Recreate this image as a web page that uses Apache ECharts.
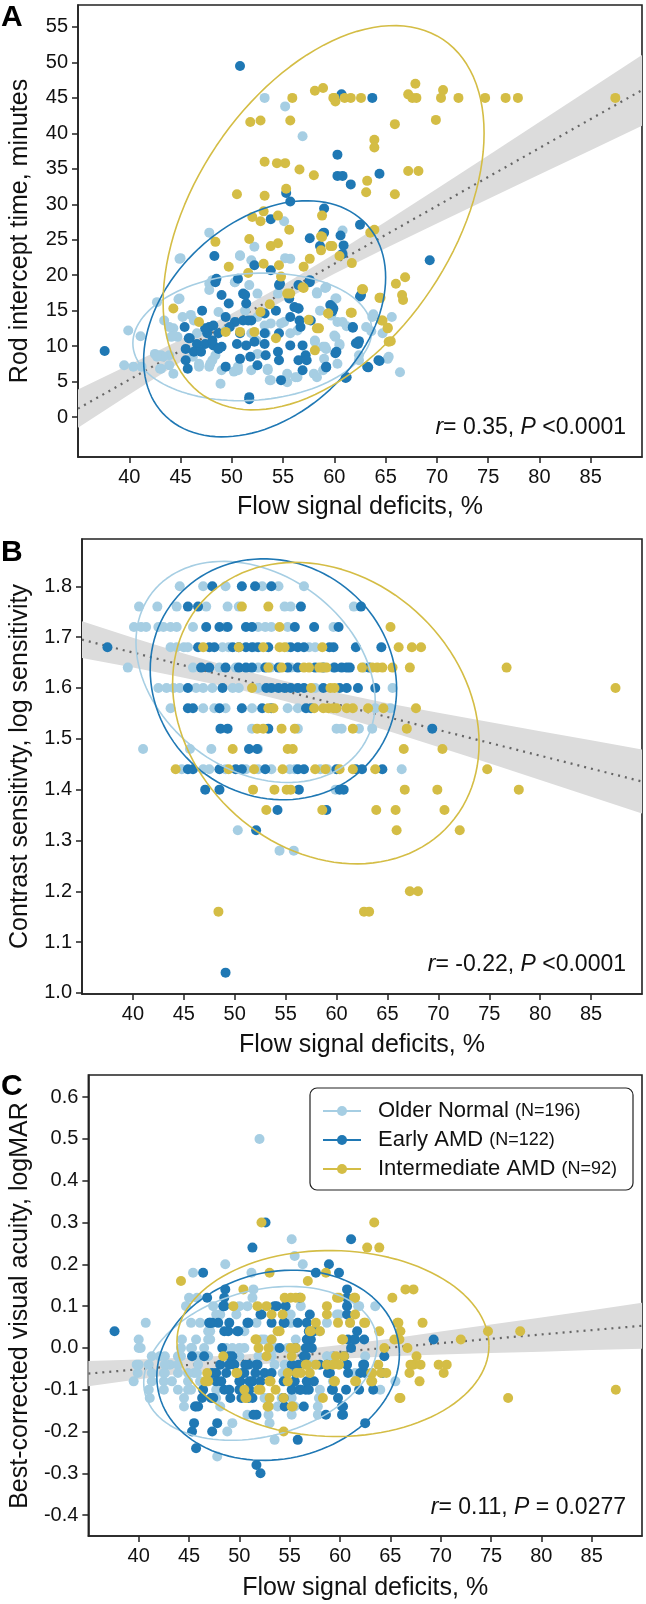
<!DOCTYPE html>
<html>
<head>
<meta charset="utf-8">
<title>Flow signal deficits and visual function</title>
<script src="https://cdn.jsdelivr.net/npm/echarts@6.0.0/dist/echarts.min.js"></script>
<style>
  html, body { margin: 0; padding: 0; background: #fff; }
  #chart { width: 646px; height: 1604px; }
</style>
</head>
<body>
<div id="chart"></div>
<script>
const colNormal = "#a6cee3";
const colEarly = "#1f78b4";
const colInter = "#d4bd45";
const font = '"Liberation Sans", Arial, Helvetica, sans-serif';

const groupNames = ["Older Normal", "Early AMD", "Intermediate AMD"];
const groupCounts = ["(N=196)", "(N=122)", "(N=92)"];

const xTicks = [40, 45, 50, 55, 60, 65, 70, 75, 80, 85];
const rodTicks = [0, 5, 10, 15, 20, 25, 30, 35, 40, 45, 50, 55];
const csTicks = [1.0, 1.1, 1.2, 1.3, 1.4, 1.5, 1.6, 1.7, 1.8];
const vaTicks = [-0.4, -0.3, -0.2, -0.1, 0.0, 0.1, 0.2, 0.3, 0.4, 0.5, 0.6];

// ---- A: rod intercept time (minutes) vs flow signal deficits (%)
const rodNormal = [
  [53.2,45],[55.2,43.8],[56.9,39.6],[55.1,27.6],[47.8,26.0],[52.2,24.0],[50.8,22.7],[45.0,22.4],[55.2,22.4],[60.8,26.3],
  [59.1,18.2],[60.1,16.7],[59.7,14.3],[60.3,13.4],[61.2,12.8],[63.6,12.1],[63.8,14.5],[65.6,14.1],[60.1,11.3],[59.2,9.6],
  [60.5,10.1],[60.3,7.5],[59.0,8.2],[65.2,8.2],[66.4,6.3],[62.4,8.7],[44.9,22.3],[42.7,16.2],[44.8,16.6],[39.9,12.2],
  [41.1,11.4],[39.5,7.3],[40.4,7.1],[41.2,7.1],[42.5,8.9],[43.1,8.7],[43.0,6.8],[43.9,8.7],[44.3,6.1],[43.9,7.3],
  [44.7,11.3],[43.4,13.6],[44.3,12.5],[46.3,13.6],[46.8,7.1],[47.8,7.1],[48.9,4.7],[48.1,19.3],[50.3,19.0],[47.8,17.9],
  [48.7,14.8],[50.8,22.8],[51.9,22.1],[55.7,22.3],[58.3,17.6],[53.5,6.8],[53.8,5.2],[55.4,4.9],[56.4,5.6],[58.0,6.1],
  [58.9,6.6],[52.5,14.1],[53.3,11.8],[55.1,13.4],[58.1,10.8],[58.9,9.9],[48.1,8.0],[50.6,7.1],[51.9,6.6],[55.7,11.8],
  [56.4,12.2],[52.5,8.9],[46.2,8.5],[46.6,11.8],[45.2,14.1],[49.4,12.2],[51.9,11.8],[51.3,15.0],[54.5,17.4],[48.4,8.7],
  [44.9,16.7],[46.0,14.4],[44.1,11.3],[43.3,8.5],[43.1,6.8],[46.8,7.5],[47.9,7.5],[50.2,6.4],[52.4,10.8],[53.7,5.2],
  [53.5,6.6],[55.4,6.1],[56.2,5.6],[58.1,10.6],[59.1,9.9],[60.5,10.3],[60.0,11.5],[58.6,15.0],[58.3,17.4],[59.2,18.3],
  [60.2,16.7],[60.8,13.4],[63.1,12.7],[63.7,14.1],[64.7,11.8],[65.3,8.5],[62.4,8.0],[58.3,5.6],[49.0,6.6],[50.6,6.6],
  [43.9,12.7],[42.7,8.5],[52.5,17.4],[51.7,18.6],[47.8,18.8],[50.3,19.0],[53.8,13.2],[54.8,13.2],[53.2,12.9]
];
const rodEarly = [
  [50.8,49.5],[55.3,31.6],[55.7,30.4],[59.0,29.4],[53.8,27.9],[59.0,26.0],[57.6,25.2],[58.6,24.1],[48.3,22.7],[60.7,45.5],
  [63.7,45],[60.3,37.0],[60.3,34.0],[60.8,34.0],[61.6,32.8],[64.4,34.3],[62.5,27.1],[58.9,25.9],[60.6,25.6],[60.9,24.2],
  [60.8,23.0],[69.3,22.1],[62.5,17.0],[59.8,15.5],[59.8,14.9],[61.8,12.6],[62.1,10.4],[62.4,10.7],[60.1,9.0],[59.2,7.0],
  [63.3,7.0],[64.4,7.9],[61.1,5.5],[37.6,9.3],[48.5,19.5],[50.6,19.5],[52.2,21.4],[53.8,20.7],[54.7,18.8],[57.6,19.3],
  [49.0,17.2],[49.7,16.0],[51.1,17.4],[51.4,16.0],[47.1,15.0],[45.4,12.7],[47.8,12.7],[49.4,14.1],[50.3,13.4],[51.6,13.6],
  [53.2,14.6],[54.3,15.0],[55.6,16.7],[56.5,15.3],[55.7,14.1],[56.7,12.7],[57.7,13.6],[54.6,11.8],[45.9,11.1],[46.6,10.3],
  [47.4,10.3],[48.2,10.1],[49.0,9.9],[46.3,9.2],[45.5,8.0],[45.7,6.8],[47.0,9.2],[50.5,10.3],[51.4,10.1],[52.2,10.6],
  [53.2,10.3],[50.8,8.2],[51.8,8.5],[52.5,7.3],[53.3,8.7],[54.5,9.2],[54.6,8.0],[55.7,10.1],[56.9,10.1],[57.2,8.7],
  [56.5,8.0],[57.3,8.0],[56.9,6.6],[49.4,7.1],[54.8,5.2],[51.7,2.8],[59.2,7.1],[60.2,9.2],[61.2,5.6],[62.3,10.3],
  [61.8,12.7],[59.9,15.3],[62.6,17.2],[64.3,8.0],[63.2,7.1],[56.5,18.6],[57.6,19.0],[54.6,18.6],[48.4,19.0],[49.8,12.7],
  [48.7,11.8],[47.6,11.8],[50.8,11.8],[53.2,11.8],[45.8,11.1],[45.5,9.6],[48.1,10.8],[48.7,9.6],[47.4,12.5],[48.2,12.9],
  [51.1,13.6],[51.9,13.6],[56.1,15.5],[56.5,15.3],[59.6,15.8],[51.3,17.2],[51.7,2.5],[56.6,13.6]
];
const rodInter = [
  [58.1,46.0],[58.9,46.4],[59.9,45],[55.9,45],[51.8,41.6],[52.8,41.8],[55.7,41.8],[53.2,36.0],[54.4,35.8],[55.2,35.8],
  [56.6,34.9],[58.0,34.1],[50.5,31.4],[53.2,31.2],[55.3,32.2],[53.1,29.0],[52.0,28.2],[52.8,27.6],[54.5,28.4],[55.6,26.4],
  [51.7,25.1],[53.8,24.1],[54.5,24.5],[48.4,24.7],[58.7,25.5],[58.7,23.5],[59.6,24.1],[60.0,45],[60.1,44.5],[61.0,45],
  [61.6,45],[62.6,45],[67.2,45.5],[67.9,47.0],[67.6,45],[68.0,45],[70.6,46.1],[70.4,45],[72.1,45],[74.7,45],
  [76.7,45],[77.9,45],[87.4,45],[65.9,41.3],[69.9,41.9],[63.9,39.1],[63.9,38.0],[67.2,34.7],[68.2,34.7],[63.2,33.3],
  [63.1,31.7],[65.9,31.4],[58.8,28.4],[63.5,26.0],[63.9,26.4],[59.8,24.1],[60.5,22.7],[58.8,25.4],[61.7,21.7],[62.7,18.0],
  [66.0,18.8],[66.9,19.7],[66.6,17.2],[66.7,16.5],[64.4,16.8],[61.7,14.7],[59.4,14.6],[64.6,13.6],[65.2,12.6],[65.5,10.7],
  [58.5,12.5],[44.3,15.3],[46.8,13.4],[49.4,12.0],[50.8,12.0],[52.2,12.0],[54.3,11.1],[52.8,14.8],[53.7,15.9],[55.4,17.4],
  [57.0,18.2],[57.5,13.7],[58.3,12.5],[58.1,9.4],[59.4,14.6],[61.6,14.7],[62.8,18.0],[64.5,16.8],[64.7,13.6],[65.2,12.5],
  [65.3,10.6],[55.7,17.4],[56.9,18.3],[54.8,19.8],[51.6,20.3],[49.7,21.2],[53.1,21.6],[54.6,21.4],[57.0,21.2],[57.6,22.3]
];

// ---- B: contrast sensitivity (log) vs flow signal deficits (%)
const csNormal = [
  [44.6,1.8],[46.9,1.8],[49.1,1.8],[52.7,1.8],[54.3,1.8],[56.8,1.8],
  [40.6,1.76],[42.4,1.76],[44.3,1.76],[47.2,1.76],[49.3,1.76],[50.4,1.76],[54.9,1.76],[55.5,1.76],[61.7,1.76],
  [40.1,1.72],[40.8,1.72],[41.3,1.72],[42.5,1.72],[43.0,1.72],[43.7,1.72],[44.3,1.72],[45.9,1.72],[49.1,1.72],[52.3,1.72],[53.0,1.72],[53.6,1.72],[55.2,1.72],[59.7,1.72],
  [43.7,1.68],[44.3,1.68],[45.0,1.68],[45.4,1.68],[48.8,1.68],[49.4,1.68],[51.9,1.68],[55.2,1.68],[57.3,1.68],[57.9,1.68],
  [39.5,1.64],[45.9,1.64],[48.5,1.64],[50.1,1.64],[52.3,1.64],[53.5,1.64],[55.5,1.64],[59.7,1.64],[62.7,1.64],
  [42.5,1.6],[43.3,1.6],[44.0,1.6],[44.6,1.6],[46.2,1.6],[46.9,1.6],[47.8,1.6],[49.8,1.6],[50.4,1.6],[52.3,1.6],[57.9,1.6],[65.5,1.6],
  [43.7,1.56],[46.9,1.56],[48.0,1.56],[49.1,1.56],[51.7,1.56],[55.2,1.56],[56.2,1.56],[63.8,1.56],[65.3,1.56],
  [51.7,1.52],[56.2,1.52],[60.0,1.52],[60.5,1.52],[62.2,1.52],[63.5,1.52],
  [41.0,1.48],[45.6,1.48],[47.7,1.48],[52.3,1.48],
  [44.8,1.44],[46.9,1.44],[47.5,1.44],[49.1,1.44],[51.1,1.44],[52.3,1.44],[53.6,1.44],[55.4,1.44],[55.9,1.44],[59.1,1.44],[58.4,1.44],[66.4,1.44],
  [59.9,1.4],[50.3,1.32],[54.4,1.28],[55.8,1.28]
];
const csEarly = [
  [47.8,1.8],[50.7,1.8],[52.0,1.8],[53.6,1.8],
  [45.4,1.76],[46.4,1.76],[56.5,1.76],[62.4,1.76],
  [47.2,1.72],[48.5,1.72],[49.3,1.72],[51.1,1.72],[51.7,1.72],[55.9,1.72],[57.8,1.72],[60.2,1.72],
  [37.5,1.68],[46.4,1.68],[47.5,1.68],[48.0,1.68],[49.8,1.68],[50.4,1.68],[51.1,1.68],[51.7,1.68],[52.3,1.68],[53.3,1.68],[55.5,1.68],[56.2,1.68],[56.8,1.68],[59.7,1.68],[59.3,1.68],[61.9,1.68],[64.4,1.68],
  [46.7,1.64],[47.5,1.64],[49.1,1.64],[50.4,1.64],[51.1,1.64],[51.7,1.64],[53.0,1.64],[54.3,1.64],[55.2,1.64],[56.2,1.64],[57.9,1.64],[58.7,1.64],[59.8,1.64],[60.5,1.64],[61.0,1.64],[61.3,1.64],[63.2,1.64],
  [45.4,1.6],[48.8,1.6],[53.1,1.6],[53.6,1.6],[54.3,1.6],[54.9,1.6],[55.5,1.6],[56.2,1.6],[56.8,1.6],[58.7,1.6],[60.3,1.6],[61.0,1.6],[62.1,1.6],[63.8,1.6],
  [45.4,1.56],[45.9,1.56],[48.5,1.56],[50.7,1.56],[52.7,1.56],[53.6,1.56],[57.0,1.56],[57.5,1.56],
  [48.6,1.52],[49.3,1.52],[53.3,1.52],[69.4,1.52],[51.4,1.48],[52.2,1.48],
  [45.4,1.44],[45.9,1.44],[48.5,1.44],[50.1,1.44],[50.7,1.44],[53.0,1.44],[56.2,1.44],[56.8,1.44],[60.0,1.44],[61.9,1.44],[62.5,1.44],[64.5,1.44],
  [47.1,1.4],[48.5,1.4],[56.3,1.4],[60.3,1.4],[60.7,1.4],[54.2,1.36],[59.0,1.36],[52.1,1.32],[49.1,1.04]
];
const csInter = [
  [50.7,1.76],[53.3,1.76],[54.4,1.72],[65.3,1.72],
  [46.9,1.68],[50.4,1.68],[52.8,1.68],[54.4,1.68],[54.9,1.68],[58.6,1.68],[66.1,1.68],[67.4,1.68],[68.3,1.68],
  [53.3,1.64],[54.6,1.64],[56.8,1.64],[57.3,1.64],[58.3,1.64],[58.6,1.64],[59.0,1.64],[62.5,1.64],[63.5,1.64],[64.0,1.64],[64.5,1.64],[65.5,1.64],[67.2,1.64],[76.7,1.64],
  [51.7,1.6],[57.5,1.6],[59.4,1.6],[59.8,1.6],[87.4,1.6],
  [53.3,1.56],[53.8,1.56],[57.8,1.56],[58.7,1.56],[59.2,1.56],[59.7,1.56],[60.0,1.56],[61.0,1.56],[61.6,1.56],[63.1,1.56],[64.6,1.56],[67.8,1.56],
  [52.2,1.52],[52.8,1.52],[54.6,1.52],[55.9,1.52],[61.6,1.52],[66.9,1.52],
  [49.8,1.48],[55.2,1.48],[55.7,1.48],[66.6,1.48],[70.4,1.48],
  [44.2,1.44],[49.4,1.44],[51.9,1.44],[54.7,1.44],[57.9,1.44],[58.9,1.44],[60.3,1.44],[61.6,1.44],[63.8,1.44],[74.8,1.44],
  [51.8,1.4],[53.9,1.4],[55.1,1.4],[55.5,1.4],[66.7,1.4],[69.9,1.4],[77.9,1.4],
  [53.1,1.36],[58.6,1.36],[63.9,1.36],[65.8,1.36],[70.6,1.36],[65.9,1.32],[72.1,1.32],
  [67.2,1.2],[68.0,1.2],[48.4,1.16],[62.7,1.16],[63.2,1.16]
];

// ---- C: best-corrected visual acuity (logMAR) vs flow signal deficits (%)
const vaNormal = [
  [52.0,0.5],[55.2,0.26],[55.5,0.22],[56.3,0.2],[48.6,0.2],[45.4,0.18],[51.2,0.18],[51.4,0.14],[45.0,0.12],[44.7,0.10],
  [50.0,0.10],[56.1,0.10],[48.1,0.08],[61.8,0.10],[63.5,0.10],[59.7,0.08],[61.0,0.06],[51.7,0.06],[46.9,0.04],[44.3,0.02],
  [46.9,0.02],[52.5,0.02],[55.6,0.02],[40.2,0.0],[45.3,0.0],[46.5,0.0],[49.3,0.0],[50.5,0.0],[53.6,0.0],[54.8,0.0],
  [42.1,-0.02],[43.9,-0.02],[45.9,-0.02],[46.9,-0.02],[51.9,-0.02],[59.2,-0.02],[39.8,-0.04],[41.0,-0.04],[43.1,-0.04],[45.9,-0.04],
  [51.3,-0.04],[57.2,-0.04],[39.9,-0.06],[41.3,-0.06],[42.5,-0.06],[45.5,-0.06],[39.5,-0.08],[42.5,-0.08],[44.9,-0.08],[65.5,-0.08],
  [41.0,-0.10],[43.9,-0.10],[44.9,-0.10],[55.6,-0.10],[58.0,-0.10],[64.0,-0.10],[41.1,-0.12],[47.7,-0.12],[52.5,-0.12],[55.2,-0.12],
  [44.5,-0.14],[48.1,-0.14],[52.9,-0.14],[55.2,-0.14],[57.8,-0.14],[50.8,-0.16],[55.2,-0.16],[57.8,-0.16],[49.3,-0.18],[53.0,-0.18],
  [48.8,-0.20],[53.5,-0.22],[47.8,-0.26],
  [45.8,0.12],[51.3,0.12],[47.4,0.10],[50.8,0.10],[61.9,0.10],[47.7,0.08],[49.7,0.08],[54.5,0.08],[55.1,0.08],[59.9,0.08],
  [40.7,0.06],[45.2,0.06],[46.1,0.06],[55.1,0.06],[58.7,0.06],[47.1,0.04],[50.5,0.04],[57.4,0.04],[58.0,0.04],[40.0,0.02],
  [45.7,0.02],[47.1,0.02],[52.2,0.02],[53.2,0.02],[40.0,0.0],[44.2,0.0],[45.2,0.0],[48.7,0.0],[50.0,0.0],[55.5,0.0],
  [41.3,-0.02],[42.6,-0.02],[44.2,-0.02],[46.8,-0.02],[50.0,-0.02],[53.2,-0.02],[58.7,-0.02],[62.5,-0.02],[40.0,-0.04],[42.6,-0.04],
  [43.9,-0.04],[53.5,-0.04],[54.5,-0.04],[42.6,-0.06],[43.9,-0.06],[44.9,-0.06],[45.8,-0.06],[54.3,-0.06],[61.5,-0.06],[41.3,-0.08],
  [43.3,-0.08],[46.1,-0.08],[59.3,-0.08],[42.5,-0.10],[45.2,-0.10],[47.7,-0.10],[44.5,-0.12],[52.9,-0.12],[54.2,-0.12],[57.9,-0.12],
  [53.8,-0.14],[55.5,-0.14],[52.9,-0.16]
];
const vaEarly = [
  [52.6,0.30],[51.3,0.24],[58.9,0.2],[46.4,0.18],[57.6,0.18],[48.6,0.14],[46.8,0.12],[56.0,0.12],[48.4,0.10],[53.7,0.10],
  [54.6,0.10],[52.2,0.08],[57.0,0.08],[47.0,0.06],[47.9,0.06],[49.0,0.06],[50.8,0.06],[37.6,0.04],[61.1,0.26],[59.9,0.18],
  [60.7,0.14],[60.7,0.10],[60.7,0.08],[47.3,0.06],[50.9,0.06],[53.2,0.06],[54.4,0.06],[55.8,0.06],[48.5,0.04],[48.9,0.04],
  [49.9,0.04],[57.4,0.04],[57.1,0.02],[60.8,0.02],[61.4,0.02],[62.4,0.02],[69.3,0.02],[48.3,0.0],[55.6,0.0],[57.2,0.0],
  [45.3,-0.02],[46.5,-0.02],[49.3,-0.02],[56.4,-0.02],[60.4,-0.02],[64.4,-0.02],[48.1,-0.04],[49.5,-0.04],[50.9,-0.04],[51.7,-0.04],
  [55.2,-0.04],[58.0,-0.04],[62.3,-0.04],[47.3,-0.06],[47.7,-0.06],[50.3,-0.06],[52.5,-0.06],[55.6,-0.06],[59.0,-0.06],[60.8,-0.06],
  [62.0,-0.06],[64.2,-0.06],[47.7,-0.08],[50.1,-0.08],[51.3,-0.08],[54.4,-0.08],[46.4,-0.10],[48.5,-0.10],[50.0,-0.10],[50.9,-0.10],
  [55.2,-0.10],[56.0,-0.10],[56.6,-0.10],[59.2,-0.10],[60.6,-0.10],[61.9,-0.10],[63.3,-0.10],[47.2,-0.12],[49.1,-0.12],[50.9,-0.12],
  [54.4,-0.12],[45.6,-0.14],[45.9,-0.14],[54.5,-0.14],[56.4,-0.14],[60.2,-0.14],[51.7,-0.16],[58.6,-0.16],[60.2,-0.16],[45.5,-0.18],
  [47.8,-0.18],[62.5,-0.18],[45.3,-0.20],[47.3,-0.20],[55.8,-0.22],[45.7,-0.24],[51.7,-0.28],[52.1,-0.30],
  [48.5,0.12],[60.7,0.12],[48.5,0.10],[53.5,0.10],[52.1,0.08],[47.1,0.06],[54.5,0.06],[56.7,0.06],[49.8,0.04],[56.9,0.04],
  [61.7,0.04],[56.7,0.02],[61.5,0.02],[54.0,0.0],[56.6,0.0],[61.1,0.0],[49.0,-0.02],[56.6,-0.02],[49.0,-0.04],[50.6,-0.04],
  [51.8,-0.04],[55.9,-0.04],[58.7,-0.04],[60.7,-0.04],[62.4,-0.04],[48.7,-0.06],[50.5,-0.06],[51.6,-0.06],[53.2,-0.06],[58.8,-0.06],
  [62.5,-0.06],[48.2,-0.08],[50.0,-0.08],[51.0,-0.08],[52.1,-0.08],[55.5,-0.08],[56.7,-0.08],[57.4,-0.08],[49.0,-0.10],[51.0,-0.10],
  [56.1,-0.10],[56.9,-0.10],[59.3,-0.10],[46.3,-0.12],[47.4,-0.12],[50.2,-0.12],[51.3,-0.12],[59.8,-0.12],[45.7,-0.14],[60.3,-0.14],
  [51.4,-0.16],[60.3,-0.16]
];
const vaInter = [
  [52.2,0.30],[53.0,0.18],[58.6,0.18],[44.2,0.16],[56.8,0.16],[50.4,0.14],[54.5,0.12],[55.1,0.12],[55.6,0.12],[49.4,0.10],
  [51.8,0.10],[52.7,0.10],[58.7,0.10],[53.2,0.08],[54.3,0.08],[58.7,0.08],[57.6,0.06],[63.4,0.30],[62.7,0.24],[63.9,0.24],
  [66.5,0.14],[67.3,0.14],[65.2,0.12],[59.7,0.12],[61.4,0.12],[61.5,0.08],[65.8,0.06],[68.2,0.06],[59.8,0.06],[62.4,0.06],
  [61.0,0.06],[54.0,0.04],[57.0,0.04],[58.0,0.04],[63.9,0.04],[66.0,0.04],[74.7,0.04],[77.9,0.04],[51.7,0.02],[53.2,0.02],
  [60.2,0.02],[65.4,0.02],[65.9,0.02],[72.0,0.02],[52.9,0.0],[55.6,0.0],[66.7,0.0],[48.4,-0.02],[52.7,-0.02],[55.2,-0.02],
  [59.6,-0.02],[56.6,-0.04],[57.6,-0.04],[58.7,-0.04],[59.9,-0.04],[63.8,-0.04],[67.3,-0.04],[68.0,-0.04],[69.8,-0.04],[70.6,-0.04],
  [49.8,-0.06],[55.7,-0.06],[57.0,-0.06],[63.1,-0.06],[64.6,-0.06],[66.9,-0.06],[70.3,-0.06],[46.9,-0.08],[53.1,-0.08],[54.8,-0.08],
  [59.4,-0.08],[61.6,-0.08],[63.1,-0.08],[67.9,-0.08],[52.1,-0.10],[53.6,-0.10],[87.4,-0.10],[50.7,-0.12],[53.0,-0.12],[54.4,-0.12],
  [58.3,-0.12],[66.0,-0.12],[76.7,-0.12],[52.8,-0.14],[55.2,-0.14],[54.4,-0.20],
  [56.1,0.12],[59.9,0.12],[61.5,0.12],[62.5,0.06],[65.7,0.06],[53.8,0.04],[57.1,0.04],[51.6,0.02],[60.3,0.02],[51.9,0.0],
  [55.1,0.0],[64.4,0.0],[60.4,-0.02],[67.6,-0.02],[56.7,-0.04],[59.3,-0.04],[67.0,-0.04],[46.8,-0.06],[49.7,-0.06],[54.8,-0.06],
  [56.1,-0.06],[63.2,-0.06],[64.1,-0.06],[46.6,-0.08],[53.0,-0.08],[59.5,-0.08],[61.5,-0.08],[63.2,-0.08],[50.5,-0.10],[51.9,-0.10],
  [50.6,-0.12],[65.9,-0.12],[52.9,-0.14],[55.3,-0.14]
];

// regression line ends and confidence band [x, lower, upper]
const rodFit = [[35, 1.18], [90, 46.1]];
const rodBand = [[35,-1.52,3.88],[40,3.16,7.36],[45,7.77,10.91],[50,12.24,14.60],[55,16.40,18.60],[60,20.19,22.97],
  [65,23.78,27.54],[70,27.28,32.20],[75,30.75,36.89],[80,34.19,41.61],[85,37.63,46.33],[90,41.06,51.06]];
const csFit = [[35, 1.695], [90, 1.416]];
const csBand = [[35,1.659,1.731],[40,1.640,1.699],[45,1.620,1.668],[50,1.599,1.639],[55,1.574,1.613],[60,1.546,1.591],
  [65,1.516,1.570],[70,1.484,1.551],[75,1.452,1.533],[80,1.419,1.515],[85,1.386,1.497],[90,1.353,1.479]];
const vaFit = [[35, -0.0615], [90, 0.053]];
const vaBand = [[35,-0.092,-0.031],[40,-0.075,-0.028],[45,-0.059,-0.023],[50,-0.044,-0.017],[55,-0.033,-0.007],[60,-0.026,0.007],
  [65,-0.020,0.022],[70,-0.016,0.039],[75,-0.012,0.056],[80,-0.009,0.073],[85,-0.005,0.090],[90,-0.002,0.108]];

// group ellipses: [centre x, centre y, half width, half height, correlation]
const rodEllipses = [[52.0, 11.3, 11.65, 9.0, 0.1], [53.2, 13.85, 11.8, 16.65, 0.35], [58.95, 28.1, 15.65, 27.1, 0.44]];
const csEllipses = [[52.05, 1.6315, 11.75, 0.2175, -0.27], [53.8, 1.617, 12.1, 0.237, -0.08], [58.95, 1.5505, 15.05, 0.2965, -0.2]];
const vaEllipses = [[52.1, -0.037, 11.6, 0.184, 0.25], [53.85, -0.0415, 12.05, 0.2275, 0.12], [59.3, 0.0105, 15.5, 0.2225, -0.02]];

const colors = [colNormal, colEarly, colInter];

function ellipsePath(p) {
  const [mx, my, sx, sy, rho] = p;
  const k = Math.sqrt(1 - rho * rho);
  const pts = [];
  for (let i = 0; i <= 120; i++) {
    const t = (i / 120) * 2 * Math.PI;
    pts.push([mx + sx * Math.cos(t), my + sy * (rho * Math.cos(t) + k * Math.sin(t))]);
  }
  return pts;
}

function panelSeries(idx, groups, fit, band, ellipses) {
  const out = [];
  out.push({
    type: "custom", xAxisIndex: idx, yAxisIndex: idx, z: 1, silent: true, clip: true,
    data: band, encode: { x: 0, y: [1, 2] },
    renderItem(params, api) {
      if (params.dataIndex !== 0) return null;
      const up = band.map(r => api.coord([r[0], r[2]]));
      const lo = band.map(r => api.coord([r[0], r[1]])).reverse();
      return { type: "polygon", shape: { points: up.concat(lo) }, style: { fill: "#dcdcdc" } };
    }
  });
  out.push({
    type: "line", xAxisIndex: idx, yAxisIndex: idx, z: 2, data: fit, showSymbol: false, silent: true,
    lineStyle: { color: "#666", width: 2.2, type: [2, 5] }
  });
  groups.forEach((g, j) => {
    out.push({
      type: "scatter", xAxisIndex: idx, yAxisIndex: idx, z: 3 + j, data: g, symbolSize: 10,
      itemStyle: { color: colors[j], opacity: 1 }
    });
  });
  ellipses.forEach((e, j) => {
    out.push({
      type: "line", xAxisIndex: idx, yAxisIndex: idx, z: 7, data: ellipsePath(e), showSymbol: false,
      silent: true, lineStyle: { color: colors[j], width: 1.6 }
    });
  });
  return out;
}

function xAxisFor(idx, gap) {
  return {
    type: "value", gridIndex: idx, min: 35, max: 90,
    name: "Flow signal deficits, %", nameLocation: "middle", nameGap: gap,
    nameTextStyle: { fontSize: 25, color: "#111", fontFamily: font },
    axisLine: { show: true, onZero: false, lineStyle: { color: "#222", width: 1.6 } },
    axisTick: { show: true, length: 6, customValues: xTicks, lineStyle: { color: "#222", width: 1.5 } },
    axisLabel: { customValues: xTicks, fontSize: 20, color: "#111", margin: 10, fontFamily: font },
    splitLine: { show: false }
  };
}

function yAxisFor(idx, name, min, max, ticks, gap, fmt) {
  return {
    type: "value", gridIndex: idx, min: min, max: max,
    name: name, nameLocation: "middle", nameGap: gap,
    nameTextStyle: { fontSize: 25, color: "#111", fontFamily: font },
    axisLine: { show: true, onZero: false, lineStyle: { color: "#222", width: 1.6 } },
    axisTick: { show: true, length: 6, customValues: ticks, lineStyle: { color: "#222", width: 1.5 } },
    axisLabel: { customValues: ticks, fontSize: 20, color: "#111", margin: 10, fontFamily: font, formatter: fmt },
    splitLine: { show: false }
  };
}

function statText(y, rest1, rest2) {
  return {
    type: "text", x: 626, y: y, z: 50,
    style: {
      text: "{i|r}" + rest1 + "{i|P}" + rest2,
      fontSize: 23, fontFamily: font, fill: "#111", align: "right", verticalAlign: "middle",
      rich: { i: { fontStyle: "italic", fontSize: 23, fontFamily: font, fill: "#111" } }
    }
  };
}

function letter(t, y) {
  return { type: "text", x: 1, y: y, z: 50, style: { text: t, fontSize: 30, fontWeight: "bold", fontFamily: font, fill: "#000", verticalAlign: "middle" } };
}

const legendRows = [1111, 1140, 1169];
const legendItems = [{
  type: "rect", z: 60, shape: { x: 310, y: 1088, width: 323, height: 102, r: 7 },
  style: { fill: "rgba(255,255,255,0.92)", stroke: "#222", lineWidth: 1.2 }
}];
groupNames.forEach((n, j) => {
  const y = legendRows[j];
  legendItems.push({ type: "line", z: 61, shape: { x1: 323, y1: y, x2: 361, y2: y }, style: { stroke: colors[j], lineWidth: 2 } });
  legendItems.push({ type: "circle", z: 62, shape: { cx: 342, cy: y, r: 5 }, style: { fill: colors[j] } });
  legendItems.push({
    type: "text", z: 62, x: 378, y: y,
    style: {
      text: "{a|" + n + " }{b|" + groupCounts[j] + "}", verticalAlign: "middle", fontFamily: font, fill: "#111",
      rich: { a: { fontSize: 22, fontFamily: font, fill: "#111" }, b: { fontSize: 18, fontFamily: font, fill: "#111" } }
    }
  });
});

const chart = echarts.init(document.getElementById("chart"), null, { renderer: "canvas" });
const fmt1 = v => v.toFixed(1);
chart.setOption({
  animation: false,
  backgroundColor: "#fff",
  textStyle: { fontFamily: font },
  grid: [
    { left: 70, top: 5, right: 4, height: 452, show: true, borderColor: "#222", borderWidth: 1.6, backgroundColor: "#fff" },
    { left: 73, top: 539, right: 4, height: 455, show: true, borderColor: "#222", borderWidth: 1.6, backgroundColor: "#fff" },
    { left: 74, top: 1075, right: 4, height: 461, show: true, borderColor: "#222", borderWidth: 1.6, backgroundColor: "#fff" }
  ],
  xAxis: [xAxisFor(0, 38), xAxisFor(1, 39), xAxisFor(2, 40)],
  yAxis: [
    yAxisFor(0, "Rod intercept time, minutes", -5.64, 58.1, rodTicks, 45, v => String(v)),
    yAxisFor(1, "Contrast sensitivty, log sensitivity", 0.998, 1.893, csTicks, 49, fmt1),
    yAxisFor(2, "Best-corrected visual acuity, logMAR", -0.45, 0.653, vaTicks, 50, fmt1)
  ],
  series: [].concat(
    panelSeries(0, [rodNormal, rodEarly, rodInter], rodFit, rodBand, rodEllipses),
    panelSeries(1, [csNormal, csEarly, csInter], csFit, csBand, csEllipses),
    panelSeries(2, [vaNormal, vaEarly, vaInter], vaFit, vaBand, vaEllipses)
  ),
  graphic: [
    letter("A", 18), letter("B", 553), letter("C", 1087),
    statText(428, "= 0.35, ", " <0.0001"),
    statText(965, "= -0.22, ", " <0.0001"),
    statText(1508, "= 0.11, ", " = 0.0277")
  ].concat(legendItems)
});
</script>
</body>
</html>
